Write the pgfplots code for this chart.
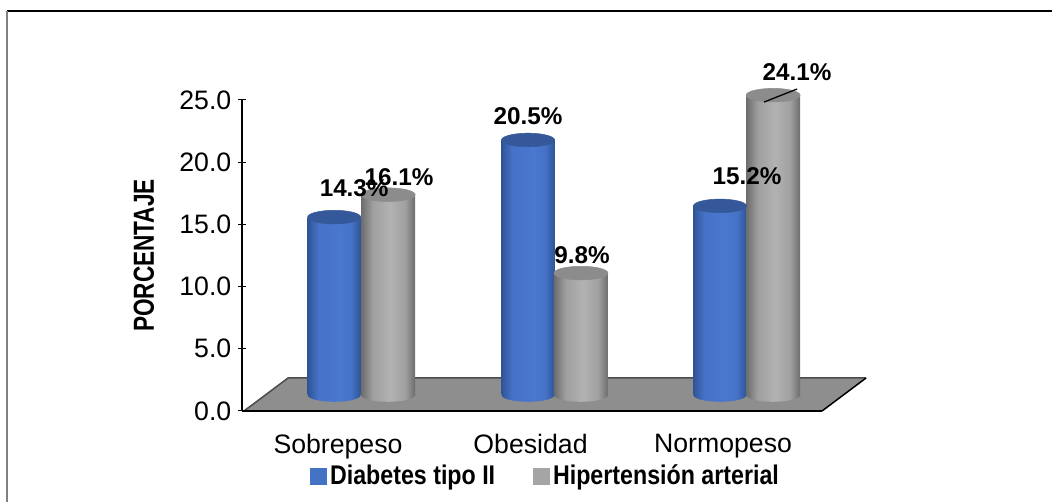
\documentclass[border=0pt]{standalone}
\usepackage{pgfplots}
\usepackage{pgfplotstable}
\usepackage{fontspec}
\setmainfont{Liberation Sans}
\pgfplotsset{compat=1.18}

\definecolor{blueA}{HTML}{2F5597}
\definecolor{blueB}{HTML}{4672C8}
\definecolor{blueC}{HTML}{4A78CE}
\definecolor{blueTop}{HTML}{35589A}
\definecolor{greyA}{HTML}{6C6C6C}
\definecolor{greyB}{HTML}{A0A0A0}
\definecolor{greyC}{HTML}{B2B2B2}
\definecolor{greyTop}{HTML}{8C8C8C}
\definecolor{floorgrey}{HTML}{8E8E8E}
\definecolor{swatchblue}{HTML}{4472C4}
\definecolor{swatchgrey}{HTML}{A5A5A5}

% one drawing unit is one pixel of a 1052 x 502 canvas
\newlength{\px}\setlength{\px}{0.75pt}

% round-body shadings, the stops 25bp..75bp span the width of a shaded path
\pgfdeclarehorizontalshading{cylblue}{100bp}{color(0bp)=(blueA); color(25bp)=(blueA); color(35bp)=(blueB); color(55bp)=(blueC); color(66bp)=(blueB); color(75bp)=(blueA); color(100bp)=(blueA)}
\pgfdeclarehorizontalshading{cylgrey}{100bp}{color(0bp)=(greyA); color(25bp)=(greyA); color(36bp)=(greyB); color(52bp)=(greyC); color(66bp)=(greyB); color(75bp)=(greyA); color(100bp)=(greyA)}

% ellipses closing the cylinders
\pgfdeclareplotmark{blue top}{\fill[blueTop,rotate=5] (0pt,0pt) ellipse [x radius=26.5\px,y radius=6.8\px];}
\pgfdeclareplotmark{grey top}{\fill[greyTop,rotate=5] (0pt,0pt) ellipse [x radius=27\px,y radius=6.8\px];}
\pgfdeclareplotmark{blue base}{\path[shading=cylblue,draw=none,rotate=5] (0pt,0pt) ellipse [x radius=26.5\px,y radius=6.8\px];}
\pgfdeclareplotmark{grey base}{\path[shading=cylgrey,draw=none,rotate=5] (0pt,0pt) ellipse [x radius=27\px,y radius=6.8\px];}

% x: bar centre, y: percentage, z: height of the foot, dx/dy: offset of the value label in px
\pgfplotstableread{
x     y     z  dx   dy
-0.02 14.3  0  20   20
0.987 20.5  0  0    15
1.984 15.2  0  27   21
}\diabetes
\pgfplotstableread{
x     y     z  dx   dy
0.26  16.1  0  11   9
1.262 9.8   0  1    9
2.26  24.1  0  24   14
}\hipertension

\pgfplotsset{
  canvas/.style={
    width=580\px, height=311\px, scale only axis,
    xmin=-0.4987, xmax=2.514, clip=false,
    anchor=south west, at={(0,0)},
  },
  valuelabel/.style={
    visualization depends on={\thisrow{dx}\as\dxv},
    visualization depends on={\thisrow{dy}\as\dyv},
    nodes near coords={\pgfmathprintnumber[fixed,fixed zerofill,precision=1,assume math mode=true]{\pgfplotspointmeta}\%},
    nodes near coords style={font=\fontsize{18.2pt}{20pt}\selectfont\bfseries,anchor=south,
      inner sep=0pt,xshift=\dxv*0.75pt,yshift=\dyv*0.75pt,text=black},
    point meta=y,
  },
  % one cylinder body: the shading spans a single bar
  body/.style 2 args={ybar,bar width=#1\px,bar shift=0pt,draw=none,shading=#2},
}

\begin{document}
\begin{tikzpicture}[x=1pt,y=1pt]
% canvas and outer frame (origin sits at the foot of the value axis)
\path[use as bounding box] (-242\px,-91\px) rectangle (810\px,411\px);
\draw[line width=1.2\px,black] (-235\px,400\px) -- (810\px,400\px);
\draw[line width=2\px,gray] (-235\px,-91\px) -- (-235\px,400\px);

\begin{axis}[canvas,
  ymin=0, ymax=25,
  axis x line=bottom, axis y line=left,
  axis line style={-,line width=1.5\px,black},
  xtick={0,1,2},
  xticklabels={Sobrepeso,Obesidad,Normopeso},
  xtick style={draw=none},
  x tick label style={font=\fontsize{20pt}{22pt}\selectfont,yshift=-14\px,anchor=north},
  ytick={0,5,10,15,20,25},
  major tick length=8\px,
  ytick style={line width=1\px,black},
  y tick label style={font=\fontsize{20pt}{22pt}\selectfont,
    /pgf/number format/fixed,/pgf/number format/fixed zerofill,/pgf/number format/precision=1,
    /pgf/number format/assume math mode=true,xshift=-2\px},
  ylabel={\scalebox{0.78}[1]{\fontsize{21.75pt}{24pt}\selectfont\bfseries PORCENTAJE}},
  ylabel style={at={(axis description cs:-0.169,0.5)},anchor=center},
  legend style={at={(axis description cs:0.117,-0.165)},anchor=north west,draw=none,fill=none,
    legend columns=2,inner sep=0pt,outer sep=0pt,
    /tikz/every even column/.append style={column sep=35\px}},
  legend cell align=left,
  legend image code/.code={\fill[#1] (0pt,-8\px) rectangle (16\px,8\px);},
  axis on top,
]
\addlegendimage{swatchblue}
\addlegendentry{\hspace{1\px}\scalebox{0.86}[1]{\fontsize{20.25pt}{22pt}\selectfont\bfseries Diabetes tipo II}}
\addlegendimage{swatchgrey}
\addlegendentry{\hspace{1\px}\scalebox{0.86}[1]{\fontsize{20.25pt}{22pt}\selectfont\bfseries Hipertensión arterial}}
% floor of the plot
\addplot[fill=floorgrey,draw=none] coordinates
  {(-0.4883,0) (2.514,0) (2.7429,2.653) (-0.2597,2.653)} -- cycle;
\addplot[draw=black!70,line width=1.5\px] coordinates
  {(-0.4883,0) (-0.2597,2.653) (2.7429,2.653)};
\addplot[draw=black,line width=1.5\px] coordinates {(2.514,0) (2.7429,2.653)};
\end{axis}

% the cylinders stand 16 px behind the front edge of the floor
\begin{axis}[canvas,
  ymin=-1.286, ymax=23.714,
  hide axis,
]
\addplot[only marks,mark=blue base] table[x=x,y=z] {\diabetes};
\addplot[body={53}{cylblue}] coordinates {(-0.02,14.3)};
\addplot[body={53}{cylblue}] coordinates {(0.987,20.5)};
\addplot[body={53}{cylblue}] coordinates {(1.984,15.2)};
\addplot[only marks,mark=blue top] table[x=x,y=y] {\diabetes};
\addplot[only marks,mark=grey base] table[x=x,y=z] {\hipertension};
\addplot[body={54}{cylgrey}] coordinates {(0.26,16.1)};
\addplot[body={54}{cylgrey}] coordinates {(1.262,9.8)};
\addplot[body={54}{cylgrey}] coordinates {(2.26,24.1)};
\addplot[only marks,mark=grey top] table[x=x,y=y] {\hipertension};
% value labels go last so that they stay above every cylinder
\addplot[only marks,mark=none,valuelabel] table[x=x,y=y] {\diabetes};
\addplot[only marks,mark=none,valuelabel] table[x=x,y=y] {\hipertension};
\coordinate (leader) at (axis cs:2.213,23.55);
\end{axis}
% leader line of the tallest value, above the cylinder top
\draw[line width=1.3\px,black] (leader) -- ++(33\px,13\px);
\end{tikzpicture}
\end{document}
